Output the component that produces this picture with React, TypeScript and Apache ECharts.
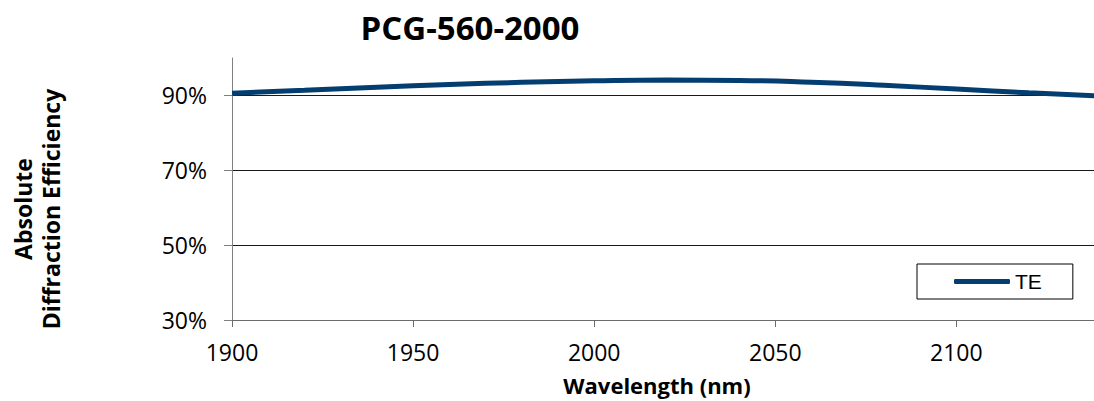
import React, { useEffect, useRef } from "react";
import * as echarts from "echarts";

const wavelengths = [1900, 1920, 1940, 1960, 1980, 2000, 2020, 2040, 2060, 2080, 2100, 2120, 2140];
const teValues = [90.6, 91.4, 92.2, 92.9, 93.5, 93.9, 94.1, 94.0, 93.5, 92.7, 91.7, 90.7, 89.8];
const yTicks = [30, 50, 70, 90];
const xTicks = [1900, 1950, 2000, 2050, 2100];
const title = "PCG-560-2000";
const seriesName = "TE";

export default function App() {
  const ref = useRef<HTMLDivElement>(null);
  useEffect(() => {
    if (!ref.current) return;
    const chart = echarts.init(ref.current, undefined, { renderer: "svg" });
    const font = "'Open Sans', sans-serif";
    chart.setOption({
      animation: false,
      backgroundColor: "#ffffff",
      grid: { left: 232, top: 58, right: 0, bottom: 81 },
      graphic: [
        {
          type: "text",
          x: 470,
          y: 27,
          style: {
            text: title,
            font: `bold 33px ${font}`,
            fill: "#000",
            align: "center",
            verticalAlign: "middle",
          },
        },
        {
          type: "text",
          x: 37,
          y: 209,
          rotation: Math.PI / 2,
          style: {
            text: "Absolute\nDiffraction Efficiency",
            font: `bold 23px ${font}`,
            lineHeight: 28,
            fill: "#000",
            align: "center",
            verticalAlign: "middle",
          },
        },
      ],
      legend: {
        left: 917,
        top: 264,
        padding: [7, 31, 7, 37],
        borderColor: "#000",
        borderWidth: 1,
        itemWidth: 56,
        itemHeight: 5,
        icon: "roundRect",
        textStyle: { fontFamily: "'Liberation Sans', Arial, sans-serif", fontSize: 21, color: "#000" },
        data: [seriesName],
      },
      xAxis: {
        type: "value",
        min: 1900,
        max: 2138,
        interval: 50,
        name: "Wavelength (nm)",
        nameLocation: "middle",
        nameGap: 54,
        nameTextStyle: { fontFamily: font, fontWeight: "bold", fontSize: 22, color: "#000", padding: [0, 12, 0, 0] },
        axisLine: { show: true, lineStyle: { color: "#6b6b6b", width: 1 } },
        axisTick: { show: true, length: 7, customValues: xTicks, lineStyle: { color: "#6b6b6b" } },
        axisLabel: {
          customValues: xTicks,
          margin: 20,
          fontFamily: font,
          fontSize: 23,
          color: "#000",
          formatter: (v: number) => String(v),
        },
        splitLine: { show: false },
      },
      yAxis: {
        type: "value",
        min: 30,
        max: 100,
        interval: 20,
        axisLine: { show: true, lineStyle: { color: "#808080", width: 1 } },
        axisTick: { show: true, length: 8, customValues: yTicks, lineStyle: { color: "#808080" } },
        axisLabel: {
          customValues: yTicks,
          margin: 25,
          fontFamily: font,
          fontSize: 23,
          color: "#000",
          formatter: (v: number) => `${v}%`,
        },
        splitLine: {
          show: true,
          showMinLine: false,
          showMaxLine: true,
          lineStyle: { color: "#1a1a1a", width: 1 },
        },
      },
      series: [
        {
          name: seriesName,
          type: "line",
          smooth: true,
          showSymbol: false,
          symbol: "none",
          color: "#043d70",
          lineStyle: { color: "#043d70", width: 5 },
          data: wavelengths.map((w, i) => [w, teValues[i]]),
        },
      ],
    });
    return () => chart.dispose();
  }, []);
  return <div ref={ref} style={{ width: 1094, height: 401, position: "absolute", left: 0, top: 0 }} />;
}
